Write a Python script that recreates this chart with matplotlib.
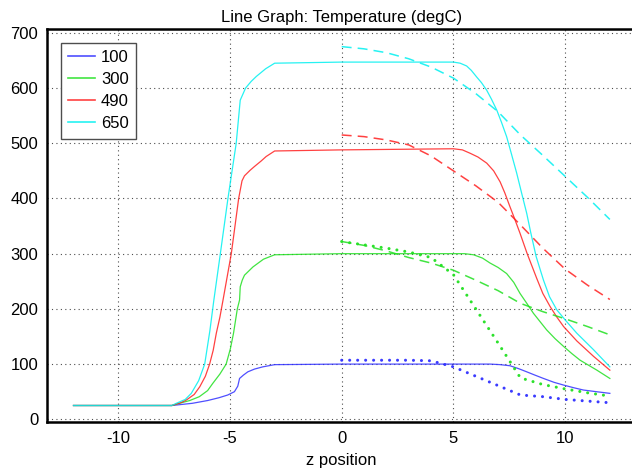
import matplotlib
matplotlib.use("Agg")
from matplotlib import pyplot as plt
from matplotlib.lines import Line2D

plt.rcParams["font.family"] = ["Liberation Sans", "DejaVu Sans"]
plt.rcParams["axes.unicode_minus"] = False

# solid lines (full profile)
z_100 = [-12, -7.6, -6.68, -6.0, -5.5, -5.1, -4.8, -4.65, -4.57, -4.4, -4.2, -3.9, -3.53, -3.0, 0, 5,
         6.0, 6.64, 7.1, 7.53, 7.9, 8.28, 8.65, 9.03, 9.5, 9.93, 10.4, 10.82, 11.4, 12]
t_100 = [25, 25, 29, 34, 39, 44, 50, 60, 74, 80, 86, 91, 95, 99, 100, 100,
         100, 100, 99, 97, 92, 86, 80, 74, 67, 62, 57, 53, 50, 47]

z_300 = [-12, -7.6, -7.26, -6.8, -6.37, -6.0, -5.77, -5.45, -5.17, -4.98, -4.84, -4.67, -4.57, -4.54, -4.45,
         -4.35, -3.97, -3.5, -3.0, 0, 5.0, 5.5, 5.9, 6.3, 6.64, 7.0, 7.38, 7.7, 7.98, 8.3, 8.58, 9.17,
         9.55, 9.93, 10.3, 10.67, 11.42, 12]
t_300 = [25, 25, 29, 34, 41, 52, 65, 82, 100, 128, 156, 200, 216, 240, 252,
         261, 276, 290, 298, 300, 300, 300, 298, 292, 283, 275, 264, 248, 228, 209, 192, 162,
         146, 132, 119, 107, 89, 74]

z_490 = [-12, -7.6, -7.2, -6.95, -6.6, -6.35, -6.1, -5.91, -5.75, -5.61, -5.45, -5.31, -4.94, -4.61,
         -4.54, -4.46, -4.35, -4.1, -3.9, -3.6, -3.38, -3.0, 0, 5.0, 5.4, 5.74, 6.1, 6.49, 6.8, 7.09,
         7.3, 7.53, 7.75, 7.98, 8.3, 8.73, 9.0, 9.33, 9.63, 9.93, 10.52, 11.27, 12]
t_490 = [25, 25, 30, 35, 45, 59, 78, 100, 125, 156, 185, 216, 300, 400,
         415, 432, 441, 451, 458, 468, 476, 486, 488, 490, 488, 482, 475, 464, 450, 430,
         410, 385, 362, 337, 300, 255, 228, 204, 185, 168, 142, 114, 89]

z_650 = [-12, -7.6, -7.4, -7.0, -6.73, -6.4, -6.13, -5.9, -5.72, -5.43, -5.09, -4.72, -4.54, -4.3,
         -4.05, -3.82, -3.4, -3.0, 0, 5.0, 5.3, 5.59, 5.8, 6.04, 6.25, 6.49, 6.7, 6.94, 7.15, 7.38,
         7.6, 7.83, 8.05, 8.28, 8.45, 8.7, 9.03, 9.3, 9.63, 10.0, 10.52, 11.27, 12.0]
t_650 = [25, 25, 29, 36, 47, 70, 100, 160, 216, 300, 400, 500, 578, 600,
         612, 621, 635, 645, 647, 647, 645, 640, 632, 620, 610, 596, 580, 560, 538, 512,
         480, 446, 410, 373, 340, 295, 252, 222, 198, 180, 156, 126, 95]

# dashed / dotted comparison curves (z = 0..12)
z_cmp = list(range(0, 13))
dash_650 = [675, 671, 664, 653, 638, 618, 590, 557, 515, 478, 440, 402, 362]
dash_490 = [515, 512, 506, 497, 477, 450, 423, 393, 352, 310, 272, 243, 217]
dash_300 = [322, 315, 305, 293, 283, 270, 252, 233, 210, 195, 182, 168, 153]
dot_300 = [322, 316, 310, 303, 293, 262, 200, 138, 75, 63, 55, 48, 42]
dot_100 = [107, 107, 107, 107, 106, 95, 78, 61, 44, 41, 36, 33, 30]

labels = ["100", "300", "490", "650"]
colors = ["#3030ff", "#20e020", "#ff2020", "#00f0f0"]

fig = plt.figure(figsize=(6.32, 4.74), dpi=100)
ax = fig.add_axes([0.0739, 0.1091, 0.9335, 0.8298])

solids = [(z_100, t_100), (z_300, t_300), (z_490, t_490), (z_650, t_650)]
for (z, t), c in zip(solids, colors):
    ax.plot(z, t, color=c, lw=0.9, alpha=0.85)

dash = (0, (6.5, 4))
ax.plot(z_cmp, dash_650, color=colors[3], lw=1.1, ls=dash, alpha=0.85)
ax.plot(z_cmp, dash_490, color=colors[2], lw=1.1, ls=dash, alpha=0.85)
ax.plot(z_cmp, dash_300, color=colors[1], lw=1.1, ls=dash, alpha=0.85)
dots = (0, (0.01, 2.6))
ax.plot(z_cmp, dot_300, color=colors[1], lw=2.2, ls=dots, dash_capstyle="round", alpha=0.95)
ax.plot(z_cmp, dot_100, color=colors[0], lw=2.2, ls=dots, dash_capstyle="round", alpha=0.95)

ax.set_xlim(-13.2, 13.2)
ax.set_ylim(-5.4, 707)
ax.set_xticks([-10, -5, 0, 5, 10])
ax.set_yticks([0, 100, 200, 300, 400, 500, 600, 700])
ax.tick_params(length=0, labelsize=12, pad=6)
ax.grid(True, color="0.3", ls=(0, (1, 3)), lw=0.8)

for side in ["left", "top", "bottom"]:
    ax.spines[side].set_linewidth(1.8)
ax.spines["right"].set_visible(False)

handles = [Line2D([0], [0], color=c, lw=1.2, alpha=0.85) for c in colors]
leg = ax.legend(handles, labels, loc="upper left", bbox_to_anchor=(0.024, 0.965),
                fontsize=12, fancybox=False, framealpha=1, edgecolor="0.3",
                handlelength=1.6, handletextpad=0.35, labelspacing=0.42,
                borderpad=0.45, borderaxespad=0)
leg.get_frame().set_linewidth(1.0)

ax.set_title("Line Graph: Temperature (degC)", fontsize=12, pad=5)
ax.set_xlabel("z position", fontsize=12, labelpad=5)

fig.savefig("out.png", dpi=100)
